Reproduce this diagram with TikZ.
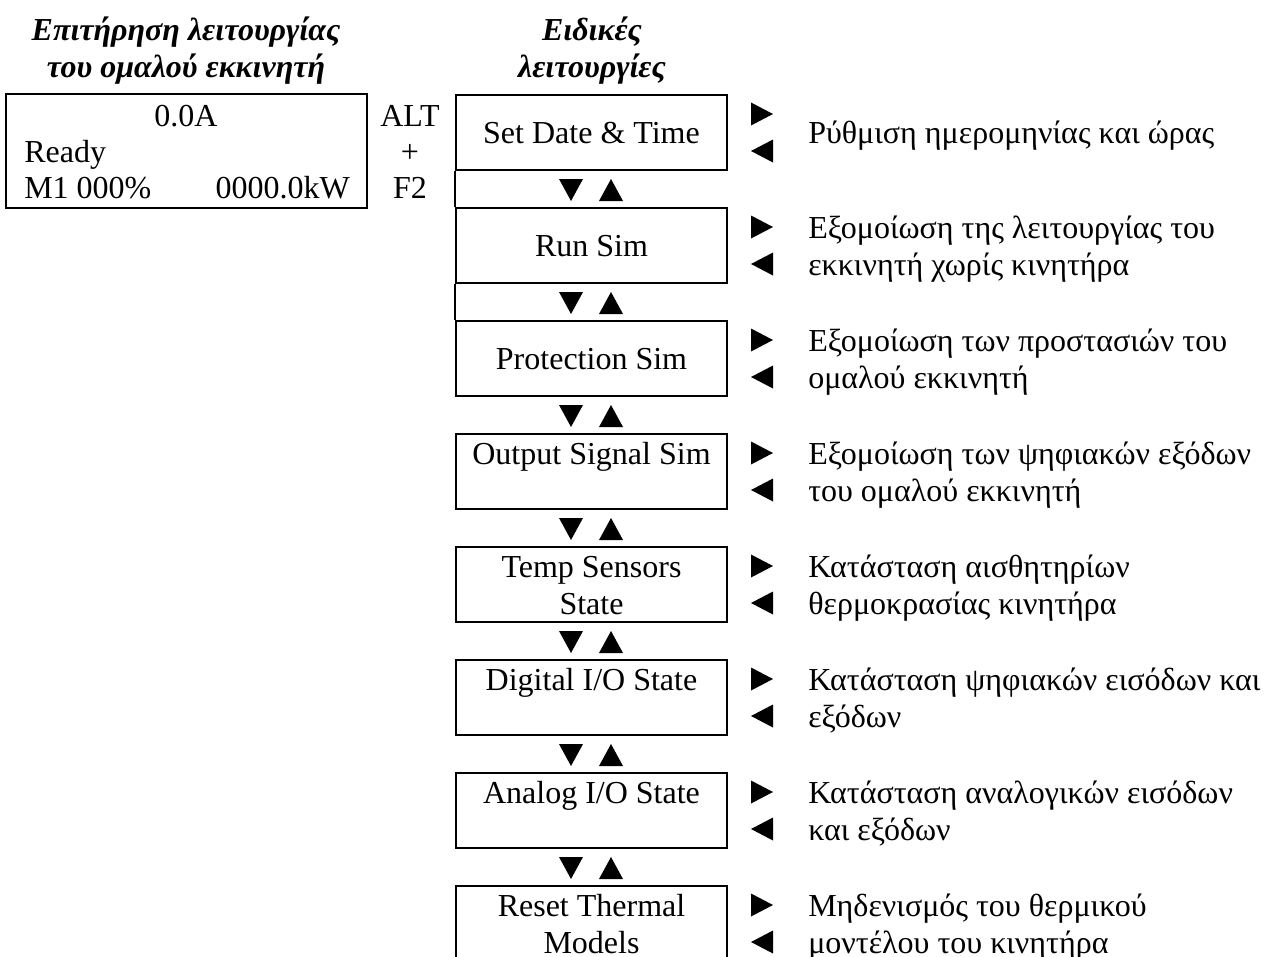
\documentclass[tikz,border=0pt]{standalone}
\usepackage{fontspec}
\setmainfont{Liberation Serif}
\usetikzlibrary{positioning,calc}
\newcommand\lstrut{\rule[-0.2\baselineskip]{0pt}{\baselineskip}}
\tikzset{
    % plaisia tou menou eidikon leitourgion
    menubox/.style={draw, rectangle, line width=1.8pt, align=center,
                    minimum width=203.25pt, minimum height=56.25pt,
                    inner sep=0pt},
    % othoni (LCD)
    lcdbox/.style={draw, rectangle, line width=1.8pt,
                   minimum width=270.75pt, minimum height=85.5pt,
                   inner sep=0pt},
    note/.style={anchor=west, align=left, inner sep=0pt},
    heading/.style={align=center, inner sep=0pt, font=\bfseries\itshape},
    plain/.style={anchor=base, inner sep=0pt},
    % trigona
    tridown/.pic={\fill (-12,-11) -- (12,-11) -- (0,11) -- cycle;},
    triup/.pic={\fill (-12,11) -- (12,11) -- (0,-11) -- cycle;},
    triright/.pic={\fill (-11,-11.5) -- (-11,11.5) -- (11,0) -- cycle;},
    trileft/.pic={\fill (11,-11.5) -- (11,11.5) -- (-11,0) -- cycle;}
}

\begin{document}
\fontsize{24}{27.75}\selectfont
\begin{tikzpicture}[x=0.75pt, y=-0.75pt]
    \useasboundingbox (0,0) rectangle (1279,957);
    \clip (0,0) rectangle (1279,957);

    % epikefalides
    \node[heading] (hmon) at (186,48) {\lstrut Επιτήρηση λειτουργίας\\\lstrut του ομαλού εκκινητή};
    \node[heading] (hspec) at (592,48) {\lstrut Ειδικές\\\lstrut λειτουργίες};

    % othoni
    \node[lcdbox] (lcd) at (186.5,151) {};
    \node[plain] (amps) at (186,126) {0.0A};
    \node[plain, anchor=base west] (ready) at (24,162) {Ready};
    \node[plain, anchor=base west] (motor) at (24,198) {M1 000\%};
    \node[plain, anchor=base east] (power) at (350,198) {0000.0kW};

    % syndyasmos plikton
    \node[plain] (alt) at (410,126) {ALT};
    \node[plain] (plus) at (410,162) {+};
    \node[plain] (ftwo) at (410,198) {F2};

    % menou
    \foreach \i/\lbl/\dsc in {
        1/{\lstrut Set Date \& Time}/{\lstrut Ρύθμιση ημερομηνίας και ώρας},
        2/{\lstrut Run Sim}/{\lstrut Εξομοίωση της λειτουργίας του\\\lstrut εκκινητή χωρίς κινητήρα},
        3/{\lstrut Protection Sim}/{\lstrut Εξομοίωση των προστασιών του\\\lstrut ομαλού εκκινητή},
        4/{\lstrut Output Signal Sim\\\lstrut}/{\lstrut Εξομοίωση των ψηφιακών εξόδων\\\lstrut του ομαλού εκκινητή},
        5/{\lstrut Temp Sensors\\\lstrut State}/{\lstrut Κατάσταση αισθητηρίων\\\lstrut θερμοκρασίας κινητήρα},
        6/{\lstrut Digital I/O State\\\lstrut}/{\lstrut Κατάσταση ψηφιακών εισόδων και\\\lstrut εξόδων},
        7/{\lstrut Analog I/O State\\\lstrut}/{\lstrut Κατάσταση αναλογικών εισόδων\\\lstrut και εξόδων},
        8/{\lstrut Reset Thermal\\\lstrut Models}/{\lstrut Μηδενισμός του θερμικού\\\lstrut μοντέλου του κινητήρα}}
    {
        \pgfmathsetmacro\y{132.5+113*(\i-1)}
        \node[menubox] (m\i) at (591.5,\y) {\lbl};
        \node[note] (d\i) at (808,\y) {\dsc};
        \pic at (762,\y-18.5) {triright};
        \pic at (762,\y+18.5) {trileft};
        \ifnum\i<8
            \pic at (571,\y+57.5) {tridown};
            \pic at (611,\y+57.5) {triup};
        \fi
    }

    \draw[line width=1.8pt] (m1.south west) -- (m2.north west);
    \draw[line width=1.8pt] (m2.south west) -- (m3.north west);
\end{tikzpicture}
\end{document}
